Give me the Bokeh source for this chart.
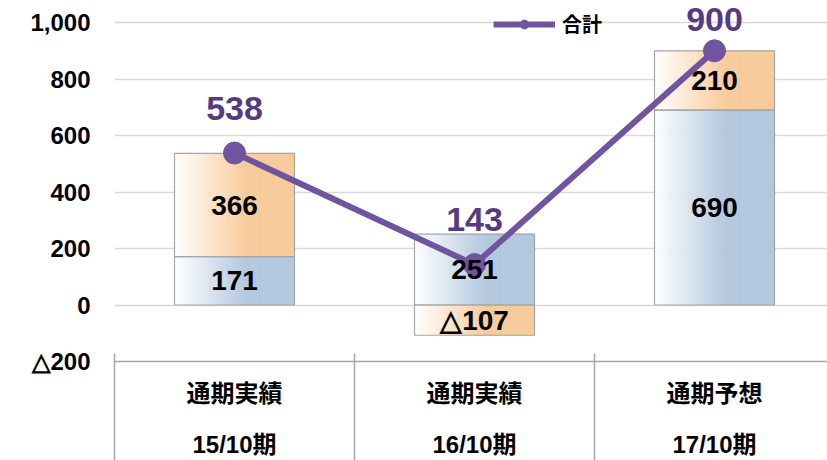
from bokeh.plotting import figure
from bokeh.models import (ColumnDataSource, FixedTicker, LabelSet, LinearAxis,
                          Range1d, Legend, LegendItem)
from bokeh.core.properties import value
from bokeh.embed import file_html
from bokeh.resources import INLINE

# ---- data ----
period_kind = ["通期実績", "通期実績", "通期予想"]
periods = ["15/10期", "16/10期", "17/10期"]
blue_vals = [171, 251, 690]
orange_vals = [366, -107, 210]
totals = [538, 143, 900]
total_name = "合計"
y_ticks = [-200, 0, 200, 400, 600, 800, 1000]
y_tick_labels = ["△200", "0", "200", "400", "600", "800", "1,000"]

# ---- style ----
BLUE = (179, 199, 222)
ORANGE = (248, 203, 155)
PURPLE = "#7054a0"
PURPLE_DARK = "#553c82"
GRID = "#d9d9d9"
AXIS = "#a6a6a6"
NUM_FONT = "Liberation Sans"
CJK_FONT = "Noto Sans CJK JP"
MIX_FONT = "Liberation Sans, Noto Sans CJK JP"
TOTAL_OFFSETS = [45, 45, 31]   # px above the point (last one kept inside the page)


def fmt(v):
    return ("△" + str(-v)) if v < 0 else str(v)


n = len(periods)
xc = [i + 0.5 for i in range(n)]
bw = 0.5

blue_bottom = [0] * n
blue_top = list(blue_vals)
orange_bottom = [b if o >= 0 else 0 for b, o in zip(blue_vals, orange_vals)]
orange_top = [ob + o for ob, o in zip(orange_bottom, orange_vals)]

W, H = 827, 460
p = figure(width=W, height=H, output_backend="svg", toolbar_location=None,
           title=None,
           x_range=Range1d(0, 713 / 240), y_range=Range1d(-200, 1078),
           min_border_left=114, min_border_right=0, min_border_top=0,
           min_border_bottom=99)
p.outline_line_color = None
p.background_fill_color = "white"
p.border_fill_color = "white"

# grid
p.xgrid.visible = False
p.ygrid.ticker = FixedTicker(ticks=[t for t in y_ticks if t >= 0])
p.ygrid.grid_line_color = GRID
p.ygrid.grid_line_width = 1.5

# gradient slices for bars
NS = 36


def grad(final):
    out = []
    for k in range(NS):
        t = (k + 0.5) / NS
        f = min(t / 0.6, 1.0)
        c = tuple(int(round(255 + (fc - 255) * f)) for fc in final)
        out.append("#%02x%02x%02x" % c)
    return out


sx, sb, st, sc = [], [], [], []
for i in range(n):
    for bottoms, tops, col in ((blue_bottom, blue_top, BLUE), (orange_bottom, orange_top, ORANGE)):
        cols = grad(col)
        for k in range(NS):
            sx.append(xc[i] - bw / 2 + (k + 0.5) * bw / NS)
            sb.append(bottoms[i])
            st.append(tops[i])
            sc.append(cols[k])
slices = ColumnDataSource(dict(x=sx, bottom=sb, top=st, color=sc))
p.vbar(x="x", width=bw / NS, bottom="bottom", top="top", source=slices,
       fill_color="color", line_color="color", line_width=0.6)

# outlines
p.vbar(x=xc, width=bw, bottom=blue_bottom, top=blue_top, fill_alpha=0,
       line_color=AXIS, line_width=1.2)
p.vbar(x=xc, width=bw, bottom=orange_bottom, top=orange_top, fill_alpha=0,
       line_color=AXIS, line_width=1.2)

# total line
ln = p.line(xc, totals, line_color=PURPLE, line_width=6)
sc_r = p.scatter(xc, totals, size=22, fill_color=PURPLE, line_color=PURPLE)

# bar labels
lab_src = ColumnDataSource(dict(
    x=xc + xc,
    y=[(b + t) / 2 for b, t in zip(blue_bottom, blue_top)] +
      [(b + t) / 2 for b, t in zip(orange_bottom, orange_top)],
    text=[fmt(v) for v in blue_vals] + [fmt(v) for v in orange_vals]))
p.add_layout(LabelSet(x="x", y="y", text="text", source=lab_src,
                      text_align="center", text_baseline="middle",
                      text_font=value(NUM_FONT), text_font_size=value("28px"),
                      text_font_style=value("bold"), text_color=value("black")))

tot_src = ColumnDataSource(dict(x=xc, y=totals, text=[fmt(v) for v in totals],
                                off=TOTAL_OFFSETS))
p.add_layout(LabelSet(x="x", y="y", text="text", source=tot_src, y_offset="off",
                      text_align="center", text_baseline="middle",
                      text_font=value(NUM_FONT), text_font_size=value("34px"),
                      text_font_style=value("bold"), text_color=value(PURPLE_DARK)))

# y axis
ya = p.yaxis[0]
ya.ticker = FixedTicker(ticks=y_ticks)
ya.major_label_overrides = {t: s for t, s in zip(y_ticks, y_tick_labels)}
ya.axis_line_color = None
ya.major_tick_line_color = None
ya.minor_tick_line_color = None
ya.major_tick_in = 0
ya.major_tick_out = 0
ya.major_label_standoff = 24
ya.major_label_text_font = NUM_FONT
ya.major_label_text_font_size = "24px"
ya.major_label_text_font_style = "bold"
ya.major_label_text_color = "black"

# x axis: first label row, category separators drawn as minor ticks
xa = p.xaxis[0]
xa.ticker = FixedTicker(ticks=xc, minor_ticks=list(range(n + 1)))
xa.major_label_overrides = {x: s for x, s in zip(xc, period_kind)}
xa.axis_line_color = AXIS
xa.axis_line_width = 1.5
xa.major_tick_line_color = None
xa.major_tick_in = 0
xa.major_tick_out = 0
xa.minor_tick_line_color = AXIS
xa.minor_tick_line_width = 1.5
xa.minor_tick_in = 8
xa.minor_tick_out = 110
xa.major_label_standoff = 12 - 110
xa.major_label_text_font = CJK_FONT
xa.major_label_text_font_size = "24px"
xa.major_label_text_font_style = "bold"
xa.major_label_text_color = "black"

# x axis: second label row (period)
xa2 = LinearAxis(ticker=FixedTicker(ticks=xc),
                 major_label_overrides={x: s for x, s in zip(xc, periods)})
xa2.axis_line_color = None
xa2.major_tick_line_color = None
xa2.minor_tick_line_color = None
xa2.major_tick_in = 0
xa2.major_tick_out = 0
xa2.major_label_standoff = 19
xa2.major_label_text_font = MIX_FONT
xa2.major_label_text_font_size = "24px"
xa2.major_label_text_font_style = "bold"
xa2.major_label_text_color = "black"
p.add_layout(xa2, "below")

# legend at the top
legend = Legend(items=[LegendItem(label=total_name, renderers=[ln, sc_r])],
                location=(379, 323), orientation="horizontal",
                padding=0, margin=0, spacing=0,
                glyph_width=62, glyph_height=22, label_standoff=7,
                label_height=22,
                label_text_font=CJK_FONT, label_text_font_size="20px",
                label_text_font_style="bold", label_text_color="black",
                border_line_color=None, background_fill_color="white",
                background_fill_alpha=1)
p.add_layout(legend)

open("out.html", "w").write(file_html(p, INLINE))
